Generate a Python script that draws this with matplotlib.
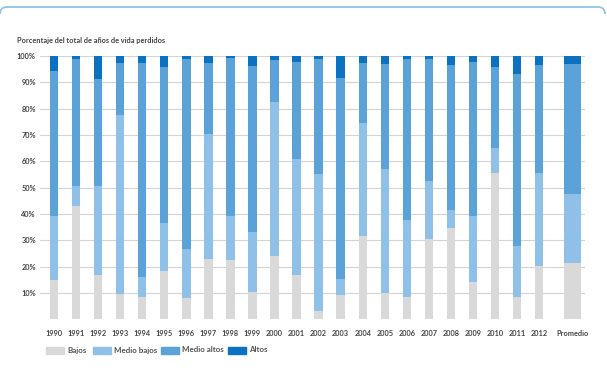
import matplotlib
matplotlib.use("Agg")
import matplotlib.pyplot as plt
from matplotlib.patches import Rectangle, PathPatch
from matplotlib.path import Path
import numpy as np

plt.rcParams['font.family'] = ['Lato', 'DejaVu Sans']

categories = [str(y) for y in range(1990, 2013)] + ["Promedio"]
series_names = ["Bajos", "Medio bajos", "Medio altos", "Altos"]
colors = ["#d9d9d9", "#8fc0e8", "#5ba2d9", "#0a72c1"]

# cumulative tops (percent)
bajos = [14.9, 43.2, 16.8, 9.5, 8.6, 18.5, 8.0, 22.8, 22.5, 10.5, 24.1, 16.8,
         3.3, 9.2, 31.6, 9.9, 8.4, 30.4, 34.6, 14.1, 55.7, 8.6, 20.3, 21.5]
medio_bajos_top = [39.2, 50.6, 50.6, 77.7, 16.2, 36.6, 26.6, 70.4, 39.4, 33.3, 82.7, 60.9,
                   55.1, 15.2, 74.4, 57.1, 37.7, 52.4, 41.5, 39.2, 65.2, 27.8, 55.7, 47.6]
medio_altos_top = [94.4, 98.9, 91.4, 97.5, 97.5, 95.9, 98.9, 97.2, 99.1, 96.3, 98.5, 97.8,
                   98.7, 91.8, 97.2, 96.8, 98.7, 98.7, 96.7, 97.8, 95.7, 93.0, 96.5, 97.0]

b = np.array(bajos)
mb = np.array(medio_bajos_top) - b
ma = np.array(medio_altos_top) - np.array(medio_bajos_top)
al = 100 - np.array(medio_altos_top)
values = [b, mb, ma, al]

fig = plt.figure(figsize=(6.07, 3.76), dpi=100)
W, H = 607, 376
ax = fig.add_axes([40 / W, 1 - 319.3 / H, (585 - 40) / W, (319.3 - 56) / H])

x = np.arange(len(categories), dtype=float)
x[-1] = 23.5
widths = np.full(len(categories), 0.38)
widths[-1] = 0.76

bottom = np.zeros(len(categories))
for vals, col, name in zip(values, colors, series_names):
    ax.bar(x, vals, width=widths, bottom=bottom, color=col, label=name, zorder=2, linewidth=0)
    bottom += vals

ax.set_ylim(0, 100)
ax.set_xlim(-0.635, 24.08)
yt = list(range(10, 101, 10))
ax.set_yticks(yt)
ax.set_yticklabels([f"{v}%" for v in yt])
ax.yaxis.grid(True, color="#d4d4d4", linewidth=0.8, zorder=0)
ax.set_axisbelow(True)
ax.set_xticks(x)
ax.set_xticklabels(categories)
for s in ax.spines.values():
    s.set_visible(False)
ax.tick_params(axis='both', length=0, labelsize=5.3, colors="#444444")
ax.tick_params(axis='x', pad=8)
ax.tick_params(axis='y', pad=3)
for lbl in ax.get_xticklabels() + ax.get_yticklabels():
    lbl.set_fontweight('bold')

fig.text(17 / W, 1 - 41 / H, "Porcentaje del total de años de vida perdidos",
         fontsize=5.3, fontweight='bold', color="#444444", va='center', ha='left')

# legend drawn manually
patch_x = [46, 93, 161, 228]
for px, col, name in zip(patch_x, colors, series_names):
    fig.patches.append(Rectangle((px / W, 1 - 354 / H), 17.5 / W, 7.5 / H,
                                 transform=fig.transFigure, color=col, figure=fig))
    fig.text((px + 21) / W, 1 - 350 / H, name, fontsize=5.8, fontweight='bold',
             color="#555555", va='center', ha='left')

# top rounded border (pixel coords, y down)
verts = [(0, 14), (0, 7), (7, 7), (598, 7), (605, 7), (605, 14)]
codes = [Path.MOVETO, Path.CURVE3, Path.CURVE3, Path.LINETO, Path.CURVE3, Path.CURVE3]
pix = [(vx / W, 1 - vy / H) for vx, vy in verts]
fig.patches.append(PathPatch(Path(pix, codes), transform=fig.transFigure, fill=False,
                             edgecolor="#8ec6e6", linewidth=1.3, figure=fig))

fig.savefig("out.png", dpi=100)
